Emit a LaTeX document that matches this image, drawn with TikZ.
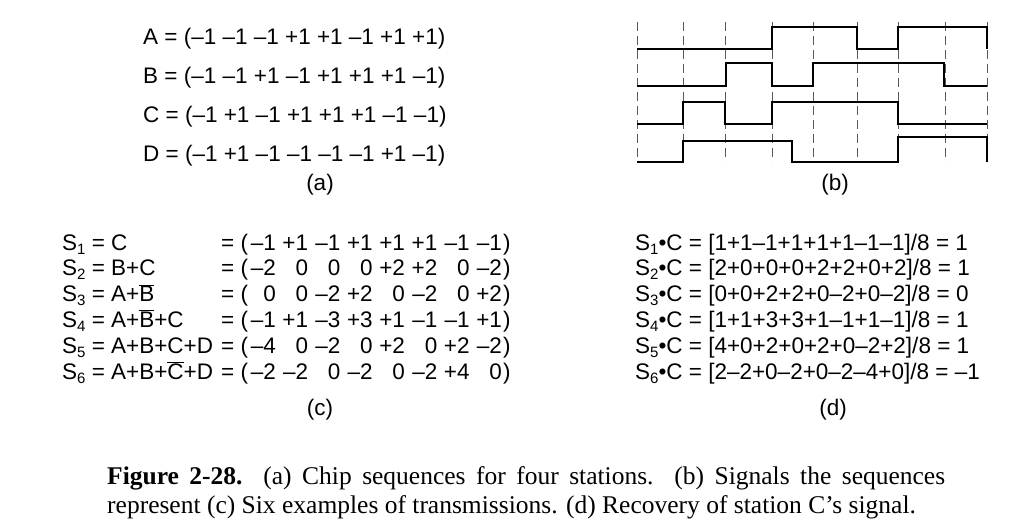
\documentclass[tikz,border=0pt]{standalone}
\usepackage{fontspec}
\setmainfont{Liberation Sans}
\newfontfamily\capfont{Liberation Serif}
\newcommand{\sbs}[1]{\raisebox{-0.35ex}{\fontsize{15}{15}\selectfont #1}}
\newcommand{\ob}[1]{$\overline{\mbox{#1}}$}
\begin{document}
\begin{tikzpicture}[x=1pt,y=-1pt,
  txt/.style={font=\fontsize{22.5}{26}\selectfont, inner sep=0pt},
  num/.style={txt, anchor=base east},
  wave/.style={line width=1.8pt},
  grid/.style={dashed, dash pattern=on 9pt off 5pt, line width=0.7pt, gray!70!black}]
\useasboundingbox (0,0) rectangle (1024,530);
% (a)
\foreach \t [count=\i] in {A = (--1 --1 --1 +1 +1 --1 +1 +1),B = (--1 --1 +1 --1 +1 +1 +1 --1),C = (--1 +1 --1 +1 +1 +1 --1 --1),D = (--1 +1 --1 --1 --1 --1 +1 --1)}
  \node[txt, anchor=base west] (a\i) at (143, {44+39.3*(\i-1)}) {\t};
\node[txt] (la) at (320,185) {(a)};
% (b)
\foreach \x in {637,683,725,772,813,857,898,945,987}
  \draw[grid] (\x,22) -- (\x,162);
\draw[wave] (637,49) -- (772,49) -- (772,27) -- (857,27) -- (857,49) -- (898,49) -- (898,27) -- (987,27) -- (987,49);
\draw[wave] (637,86) -- (726,86) -- (726,63) -- (772,63) -- (772,86) -- (813,86) -- (813,63) -- (944,63) -- (944,86) -- (987,86);
\draw[wave] (637,124) -- (683,124) -- (683,102) -- (725,102) -- (725,124) -- (772,124) -- (772,102) -- (898,102) -- (898,124) -- (987,124);
\draw[wave] (637,162) -- (683,162) -- (683,141) -- (792,141) -- (792,162) -- (898,162) -- (898,137) -- (987,137) -- (987,162);
\node[txt] (lb) at (835,185) {(b)};
% (c)
\foreach \l [count=\i] in {C,B+C,A+\ob{B},A+\ob{B}+C,A+B+C+D,A+B+\ob{C}+D}
  \node[txt, anchor=base west] (c\i) at (62, {250+25.8*(\i-1)}) {S\sbs{\i} = \l};
\foreach \row [count=\i] in {
 {--1,+1,--1,+1,+1,+1,--1,--1},
 {--2,0,0,0,+2,+2,0,--2},
 {0,0,--2,+2,0,--2,0,+2},
 {--1,+1,--3,+3,+1,--1,--1,+1},
 {--4,0,--2,0,+2,0,+2,--2},
 {--2,--2,0,--2,0,--2,+4,0}}{
  \node[txt, anchor=base west] (e\i) at (221, {250+25.8*(\i-1)}) {= (};
  \foreach \v [count=\j] in \row
    \node[num] (n\i\j) at ({276+32.3*(\j-1)}, {250+25.8*(\i-1)}) {\v};
  \node[txt, anchor=base west] (p\i) at (503, {250+25.8*(\i-1)}) {)};
}
\node[txt] (lc) at (320,410) {(c)};
% (d)
\foreach \t [count=\i] in {[1+1--1+1+1+1--1--1]/8 = 1,[2+0+0+0+2+2+0+2]/8 = 1,[0+0+2+2+0--2+0--2]/8 = 0,[1+1+3+3+1--1+1--1]/8 = 1,[4+0+2+0+2+0--2+2]/8 = 1,[2--2+0--2+0--2--4+0]/8 = --1}
  \node[txt, anchor=base west] (d\i) at (635, {250+25.8*(\i-1)}) {S\sbs{\i}•C = \t};
\node[txt] (ld) at (833,410) {(d)};
% caption
\node[inner sep=0pt, anchor=base west, font=\capfont\fontsize{25.5}{30}\selectfont] (cap1) at (107,484)
  {\makebox[838pt][s]{\textbf{Figure 2-28.} (a) Chip sequences for four stations. (b) Signals the sequences}};
\node[inner sep=0pt, anchor=base west, font=\capfont\fontsize{25.5}{30}\selectfont] (cap2) at (107,513)
  {represent (c) Six examples of transmissions. (d) Recovery of station C’s signal.};
\end{tikzpicture}
\end{document}
